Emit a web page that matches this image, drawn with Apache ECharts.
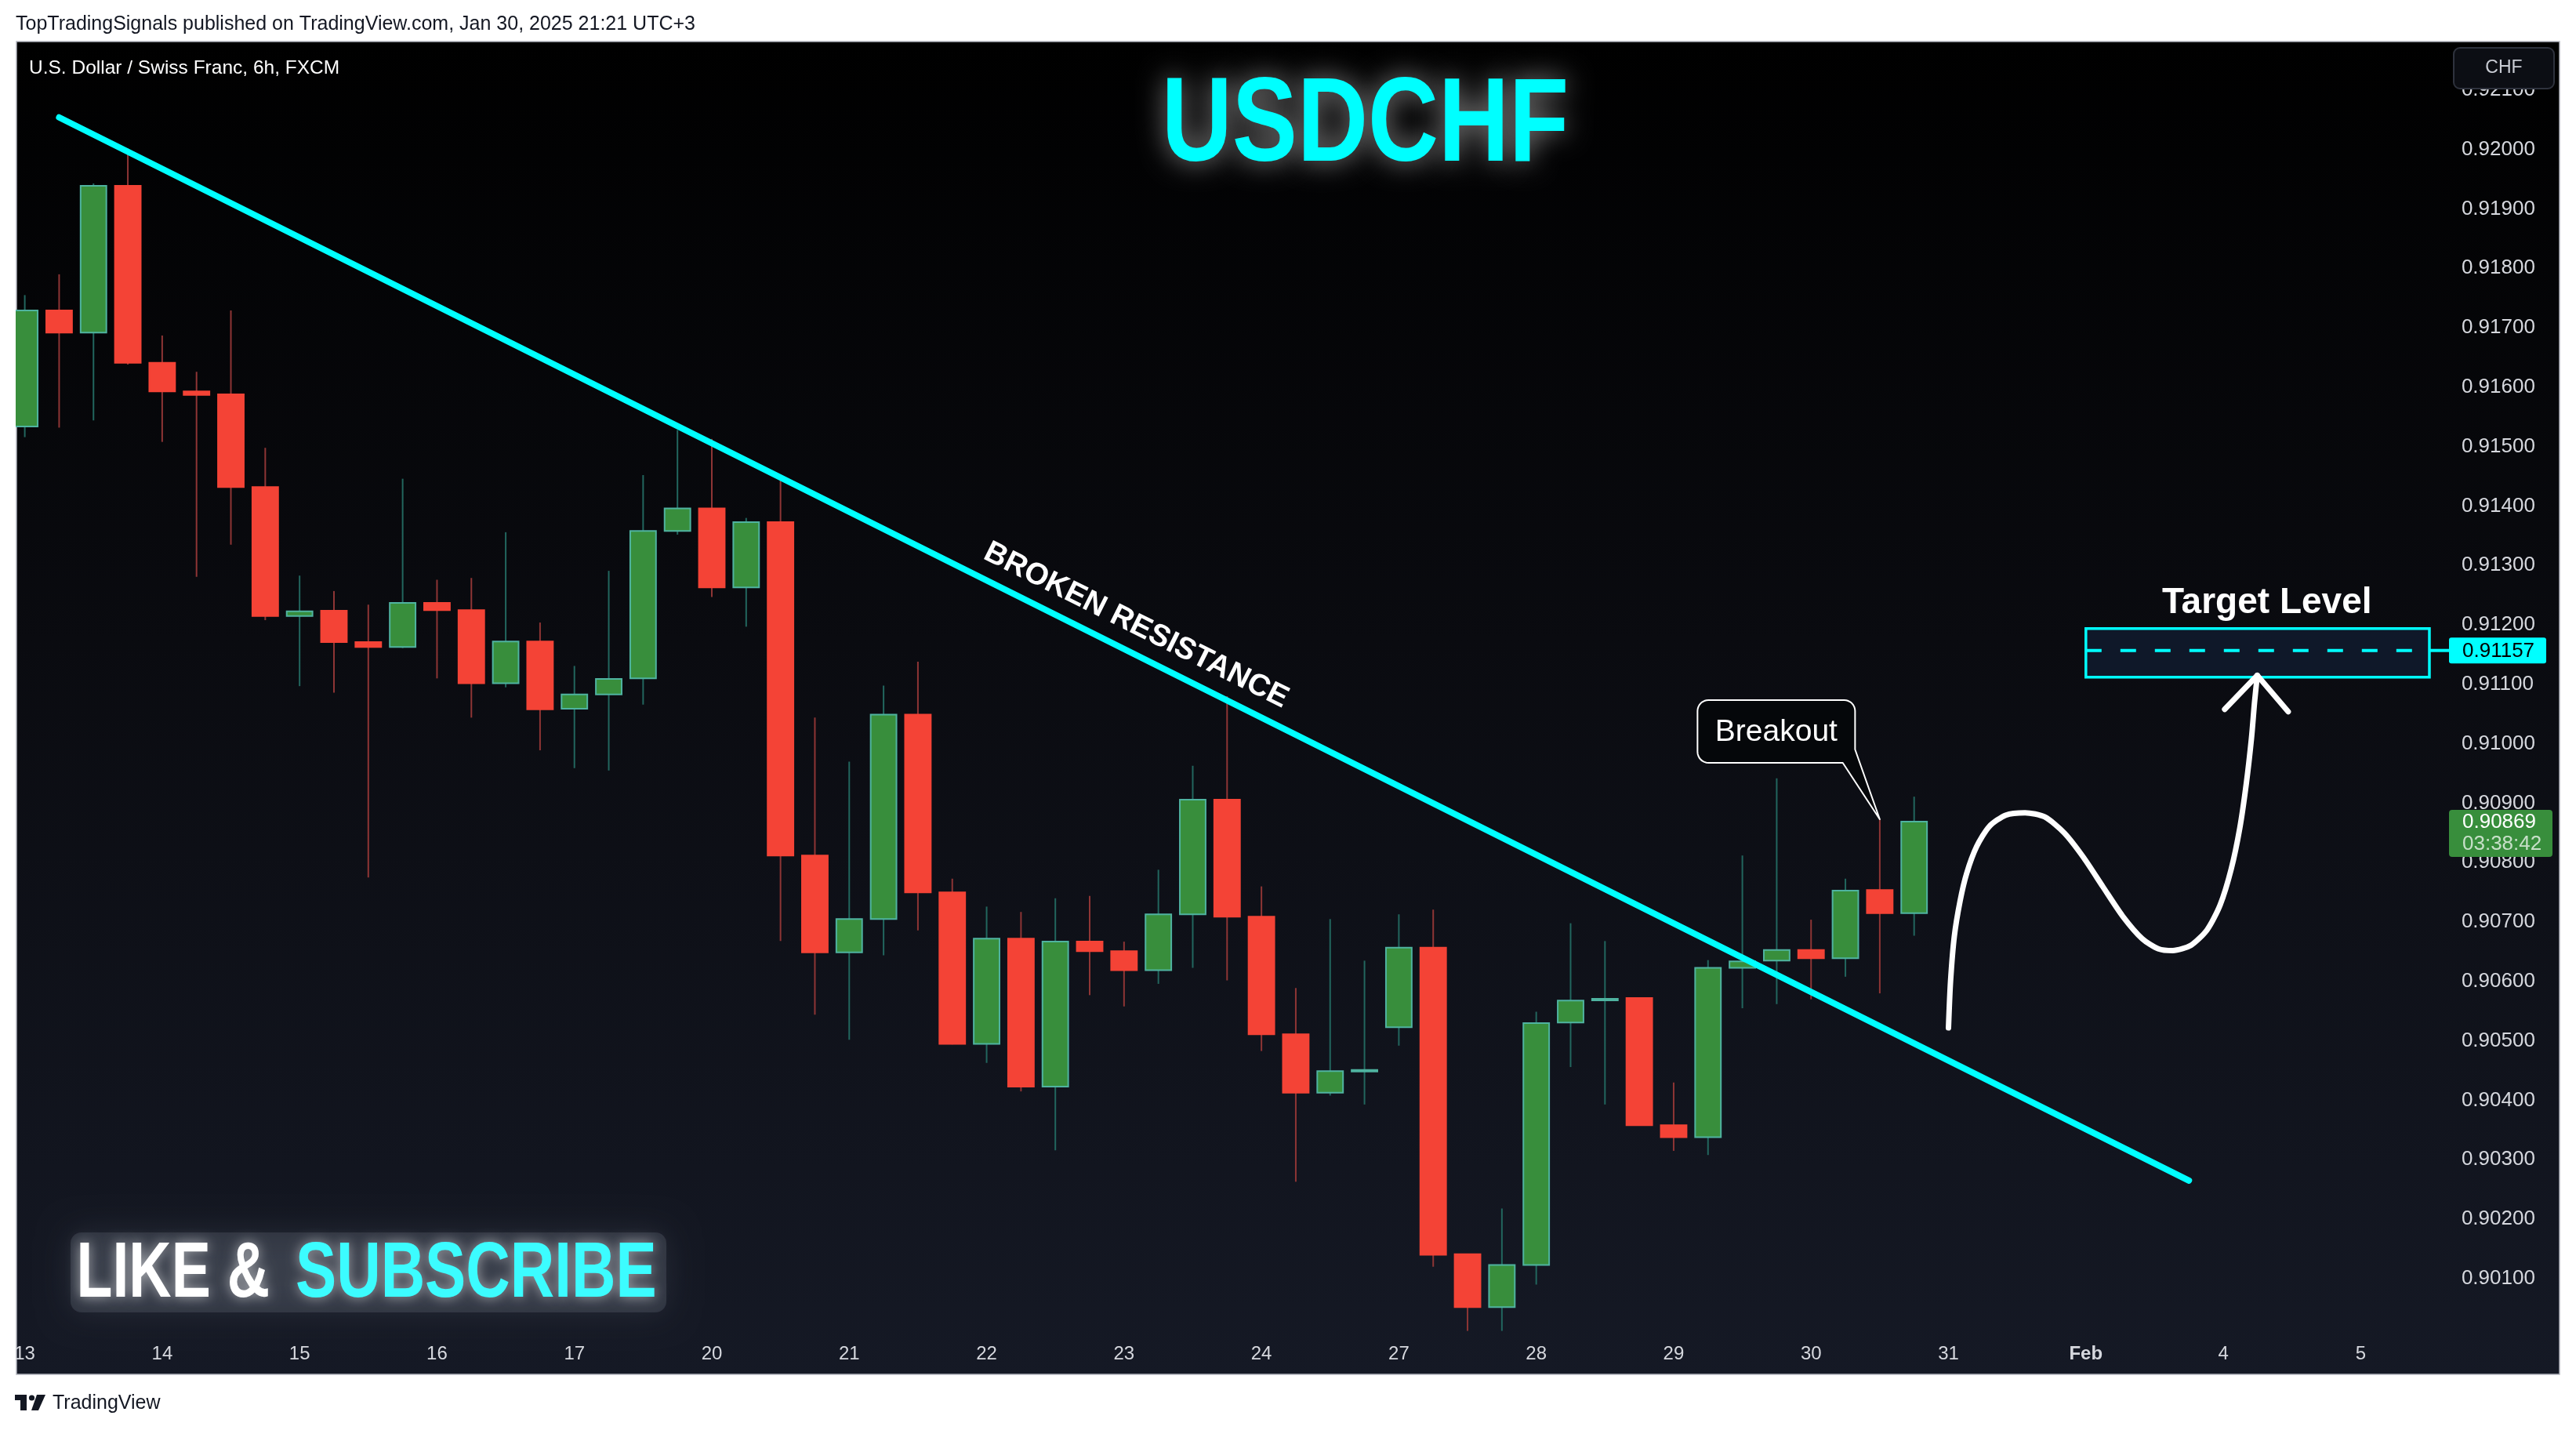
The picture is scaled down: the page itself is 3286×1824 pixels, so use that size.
<!DOCTYPE html>
<html><head><meta charset="utf-8">
<script src="https://cdn.jsdelivr.net/npm/echarts@6/dist/echarts.min.js"></script>
<style>html,body{margin:0;padding:0;background:#fff;overflow:hidden}#c{width:3286px;height:1824px}</style>
</head><body><div id="c"></div>
<script>
// ---------- data ----------
const dayLabels = ["13","14","15","16","17","20","21","22","23","24","27","28","29","30","31","Feb","4","5"];
const barsPerDay = 4;
const totalSlots = 71;
const open  = [0.91534,0.91729,0.91692,0.91939,0.91641,0.91593,0.91588,0.91432,0.91215,0.91224,0.91171,0.91163,0.91237,0.91225,0.91102,0.91172,0.91059,0.91083,0.91110,0.91358,0.91396,0.91263,0.91373,0.90812,0.90649,0.90705,0.91049,0.90750,0.90495,0.90672,0.90423,0.90667,0.90651,0.90619,0.90713,0.90906,0.90709,0.90511,0.90413,0.90450,0.90523,0.90657,0.90141,0.90052,0.90123,0.90531,0.90570,0.90572,0.90358,0.90338,0.90623,0.90635,0.90653,0.90639,0.90754,0.90715];
const close = [0.91729,0.91692,0.91939,0.91641,0.91593,0.91587,0.91432,0.91215,0.91223,0.91171,0.91163,0.91237,0.91225,0.91102,0.91172,0.91058,0.91083,0.91109,0.91358,0.91396,0.91263,0.91373,0.90812,0.90649,0.90705,0.91049,0.90750,0.90495,0.90672,0.90423,0.90667,0.90651,0.90619,0.90713,0.90906,0.90709,0.90511,0.90413,0.90449,0.90451,0.90657,0.90140,0.90052,0.90123,0.90530,0.90568,0.90571,0.90358,0.90338,0.90623,0.90634,0.90653,0.90639,0.90753,0.90715,0.90869];
const high  = [0.91755,0.91790,0.91943,0.92002,0.91687,0.91626,0.91729,0.91498,0.91283,0.91257,0.91234,0.91446,0.91276,0.91279,0.91356,0.91204,0.91131,0.91291,0.91452,0.91528,0.91513,0.91380,0.91451,0.91044,0.90970,0.91098,0.91138,0.90773,0.90726,0.90717,0.90740,0.90744,0.90667,0.90788,0.90963,0.91080,0.90760,0.90589,0.90705,0.90635,0.90713,0.90721,0.90141,0.90218,0.90549,0.90698,0.90668,0.90573,0.90430,0.90636,0.90812,0.90942,0.90704,0.90773,0.90873,0.90911];
const low   = [0.91516,0.91532,0.91544,0.91638,0.91508,0.91281,0.91335,0.91208,0.91097,0.91086,0.90775,0.91161,0.91110,0.91044,0.91095,0.90989,0.90959,0.90955,0.91066,0.91352,0.91247,0.91197,0.90668,0.90544,0.90502,0.90644,0.90686,0.90494,0.90463,0.90415,0.90316,0.90577,0.90558,0.90596,0.90623,0.90602,0.90483,0.90263,0.90408,0.90393,0.90492,0.90120,0.90012,0.90012,0.90090,0.90456,0.90393,0.90358,0.90315,0.90308,0.90555,0.90562,0.90570,0.90608,0.90580,0.90677];
const yMin = 0.900, yMax = 0.922, yStep = 0.001;
const trendLine = [[1, 0.92054], [63, 0.90265]];
const brokenLabelAt = [32.35, 0.91199];
const breakoutAt = [54, 0.90873];
const targetPrice = 0.91157;
const targetZoneX = [60, 70];
const targetZoneY = [0.91194, 0.91112];
const targetLabelAt = [65.27, 0.91237];
const lastPrice = 0.90869;
const countdown = "03:38:42";
const forecastPath = [[56.00,0.90522],[56.06,0.90600],[56.17,0.90676],[56.34,0.90736],[56.53,0.90782],[56.82,0.90827],[57.19,0.90861],[57.67,0.90880],[58.23,0.90884],[58.80,0.90877],[59.37,0.90850],[59.94,0.90808],[60.50,0.90759],[61.07,0.90710],[61.64,0.90672],[62.11,0.90655],[62.53,0.90652],[63.06,0.90661],[63.53,0.90687],[63.91,0.90729],[64.23,0.90789],[64.48,0.90858],[64.67,0.90933],[64.82,0.91009],[64.91,0.91070],[64.99,0.91115]];
const arrowHead = [[64.04,0.91058],[64.99,0.91115],[65.89,0.91054]];

// ---------- build ----------
const cats = [];
dayLabels.forEach(d => { for (let k = 0; k < barsPerDay; k++) cats.push(d + '#' + k); });
cats.length = totalSlots;
const candles = open.map((o, i) => [i, o, close[i], low[i], high[i]]);

const C = {
  upBody: '#388E3C', upBorder: '#4FB3A0', upWick: '#22665E',
  dnBody: '#F44336', dnWick: '#8E3535', cyan: '#00FFFF', axisText: '#D6D8DE'
};
const FF = '"Liberation Sans", Arial, sans-serif';

const chart = echarts.init(document.getElementById('c'), null, {width: 3286, height: 1824, renderer: 'canvas'});

const option = {
  backgroundColor: '#ffffff',
  animation: false,
  grid: {left: 9.7, right: 165.1, top: 39.1, bottom: 117.3, containLabel: false},
  xAxis: [{
    type: 'category', data: cats, boundaryGap: true,
    axisLine: {show: false}, axisTick: {show: false}, splitLine: {show: false},
    axisLabel: {
      color: C.axisText, fontSize: 24, fontFamily: 'Liberation Sans', margin: 9,
      interval: (idx, val) => String(val).split('#')[1] === '0',
      formatter: v => { const d = String(v).split('#')[0]; return d === 'Feb' ? '{b|Feb}' : d; },
      rich: {b: {fontWeight: 'bold', color: C.axisText, fontSize: 24, fontFamily: 'Liberation Sans'}}
    }
  }, {
    type: 'value', min: -0.5, max: totalSlots - 0.5, show: false
  }],
  yAxis: {
    type: 'value', position: 'right', min: yMin, max: yMax, interval: yStep, scale: true,
    axisLine: {show: false}, axisTick: {show: false}, splitLine: {show: false},
    axisLabel: {
      color: C.axisText, fontSize: 26, fontFamily: 'Liberation Sans', margin: 19, align: 'left',
      formatter: v => (Math.abs(v - yMin) < 1e-7 || Math.abs(v - yMax) < 1e-7) ? '' : v.toFixed(5)
    }
  },
  series: [{
    type: 'custom', xAxisIndex: 0, yAxisIndex: 0, data: candles, z: 3,
    encode: {x: 0, y: [1, 2, 3, 4]},
    renderItem: function (params, api) {
      const i = api.value(0), o = api.value(1), c = api.value(2), l = api.value(3), h = api.value(4);
      const pO = api.coord([i, o]), pC = api.coord([i, c]), pL = api.coord([i, l]), pH = api.coord([i, h]);
      const bw = api.size([1, 0])[0] * 0.75;
      const up = c >= o;
      const top = Math.min(pO[1], pC[1]);
      const hgt = Math.max(Math.abs(pO[1] - pC[1]), 2);
      return {type: 'group', children: [
        {type: 'line', shape: {x1: pH[0], y1: pH[1], x2: pL[0], y2: pL[1]},
          style: {stroke: up ? C.upWick : C.dnWick, lineWidth: 2}},
        {type: 'rect', shape: {x: pO[0] - bw / 2, y: top, width: bw, height: hgt},
          style: {fill: up ? C.upBody : C.dnBody, stroke: up ? C.upBorder : C.dnBody, lineWidth: 2}}
      ]};
    }
  }, {
    type: 'line', xAxisIndex: 1, yAxisIndex: 0, data: trendLine, symbol: 'none', z: 4,
    lineStyle: {color: C.cyan, width: 8, cap: 'round'}
  }, {
    type: 'line', xAxisIndex: 1, yAxisIndex: 0, symbol: 'none', z: 5,
    data: [[targetZoneX[0], targetPrice], [targetZoneX[1], targetPrice]],
    lineStyle: {color: C.cyan, width: 4, type: [20, 24]},
    markArea: {silent: true, itemStyle: {color: '#0f1829', borderColor: C.cyan, borderWidth: 3.5},
      data: [[{coord: [targetZoneX[0], targetZoneY[0]]}, {coord: [targetZoneX[1], targetZoneY[1]]}]]}
  }, {
    type: 'line', xAxisIndex: 1, yAxisIndex: 0, data: forecastPath, symbol: 'none', smooth: 0.25, z: 6,
    lineStyle: {color: '#ffffff', width: 7, cap: 'round', join: 'round'}
  }, {
    type: 'line', xAxisIndex: 1, yAxisIndex: 0, data: arrowHead, symbol: 'none', z: 6,
    lineStyle: {color: '#ffffff', width: 7, cap: 'round', join: 'round'}
  }]
};
chart.setOption(option);

// ---------- annotations positioned through the axes ----------
const px = (x, y) => chart.convertToPixel({seriesIndex: 1}, [x, y]);
const t0 = px(trendLine[0][0], trendLine[0][1]), t1 = px(trendLine[1][0], trendLine[1][1]);
const ang = Math.atan2(t1[1] - t0[1], t1[0] - t0[0]);
const br = px(brokenLabelAt[0], brokenLabelAt[1]);
const tip = px(breakoutAt[0], breakoutAt[1]);
const tgtY = px(0, targetPrice)[1];
const zoneR = px(targetZoneX[1], targetPrice)[0];
const lastY = px(0, lastPrice)[1];
const tl = px(targetLabelAt[0], targetLabelAt[1]);

// callout bubble outline (rounded corners sampled)
const L = tip[0] - 232.5, R = tip[0] - 31.5, T = tip[1] - 152, B = tip[1] - 72, r = 14;
const bubble = [];
function arc(cx, cy, a0, a1) { for (let k = 0; k <= 8; k++) { const a = a0 + (a1 - a0) * k / 8; bubble.push([cx + r * Math.cos(a), cy + r * Math.sin(a)]); } }
arc(L + r, T + r, Math.PI, 1.5 * Math.PI);
arc(R - r, T + r, 1.5 * Math.PI, 2 * Math.PI);
bubble.push([R, tip[1] - 89], [tip[0], tip[1]], [tip[0] - 47.2, B]);
arc(L + r, B - r, 0.5 * Math.PI, Math.PI);

function txt(o) {
  const s = Object.assign({}, o.style);
  if (s.align) { s.textAlign = s.align; }
  if (s.verticalAlign) { s.textVerticalAlign = s.verticalAlign; }
  o.style = s; o.type = 'text'; return o;
}

chart.setOption({graphic: [
  {type: 'rect', z: -5, silent: true, shape: {x: 21, y: 53, width: 3244, height: 1700},
    style: {fill: {type: 'linear', x: 0, y: 0, x2: 0, y2: 1, colorStops: [{offset: 0, color: '#000000'}, {offset: 0.45, color: '#0a0b10'}, {offset: 1, color: '#151925'}]},
      stroke: '#b2b5be', lineWidth: 1.5}},
  {type: 'rect', z: 60, silent: true, shape: {x: 0, y: 40, width: 20, height: 1720}, style: {fill: '#ffffff'}},
  txt({z: 61, x: 20, y: 31, style: {text: 'TopTradingSignals published on TradingView.com, Jan 30, 2025 21:21 UTC+3', fill: '#131722', font: '25px ' + FF, align: 'left', verticalAlign: 'middle'}}),
  txt({z: 61, x: 37, y: 87, style: {text: 'U.S. Dollar / Swiss Franc, 6h, FXCM', fill: '#ffffff', font: '24.5px ' + FF, align: 'left', verticalAlign: 'middle'}}),
  // title
  txt({z: 61, x: 1741.5, y: 163, scaleX: 0.82, style: {text: 'USDCHF', fill: C.cyan, font: 'bold 152px ' + FF, align: 'center', verticalAlign: 'middle', textShadowColor: 'rgba(255,255,255,0.55)', textShadowBlur: 34, shadowColor: 'rgba(255,255,255,0.55)', shadowBlur: 34}}),
  // like & subscribe
  {type: 'rect', z: 58, silent: true, shape: {x: 90, y: 1572, width: 760, height: 102, r: 14},
    style: {fill: 'rgba(105,110,125,0.28)', shadowBlur: 40, shadowColor: 'rgba(105,110,125,0.8)'}},
  txt({z: 61, x: 97.5, y: 1626, scaleX: 0.752, style: {text: 'LIKE &', fill: '#ffffff', font: 'bold 100px ' + FF, align: 'left', verticalAlign: 'middle', textShadowColor: 'rgba(255,255,255,0.6)', textShadowBlur: 16, shadowColor: 'rgba(255,255,255,0.6)', shadowBlur: 16}}),
  txt({z: 61, x: 377, y: 1626, scaleX: 0.782, style: {text: 'SUBSCRIBE', fill: '#3CFCFF', font: 'bold 100px ' + FF, align: 'left', verticalAlign: 'middle', textShadowColor: 'rgba(255,255,255,0.55)', textShadowBlur: 16, shadowColor: 'rgba(255,255,255,0.55)', shadowBlur: 16}}),
  // CHF button
  {type: 'rect', z: 62, silent: true, shape: {x: 3130, y: 61, width: 128, height: 52, r: 8}, style: {fill: '#0c0e14', stroke: '#2e323d', lineWidth: 2}},
  txt({z: 63, x: 3194, y: 87, style: {text: 'CHF', fill: '#c9ccd4', font: '23px ' + FF, align: 'center', verticalAlign: 'middle'}}),
  // broken resistance
  txt({z: 61, x: br[0], y: br[1], rotation: -ang, style: {text: 'BROKEN RESISTANCE', fill: '#ffffff', font: 'bold 39px ' + FF, align: 'center', verticalAlign: 'middle'}}),
  // breakout callout
  {type: 'polygon', z: 61, silent: true, shape: {points: bubble}, style: {fill: '#05070a', stroke: '#ffffff', lineWidth: 2, lineJoin: 'round'}},
  txt({z: 62, x: (L + R) / 2, y: (T + B) / 2 + 1, style: {text: 'Breakout', fill: '#ffffff', font: '39px ' + FF, align: 'center', verticalAlign: 'middle'}}),
  // target level
  txt({z: 61, x: tl[0], y: tl[1], style: {text: 'Target Level', fill: '#ffffff', font: 'bold 46px ' + FF, align: 'center', verticalAlign: 'middle'}}),
  {type: 'line', z: 61, silent: true, shape: {x1: zoneR, y1: tgtY, x2: 3125, y2: tgtY}, style: {stroke: C.cyan, lineWidth: 4}},
  {type: 'rect', z: 62, silent: true, shape: {x: 3124, y: tgtY - 16.5, width: 124, height: 33, r: 3}, style: {fill: C.cyan}},
  txt({z: 63, x: 3141, y: tgtY + 1, style: {text: targetPrice.toFixed(5), fill: '#000000', font: '26px ' + FF, align: 'left', verticalAlign: 'middle'}}),
  // last price
  {type: 'rect', z: 62, silent: true, shape: {x: 3124, y: lastY - 15, width: 132, height: 60, r: 4}, style: {fill: C.upBody}},
  txt({z: 63, x: 3141, y: lastY + 1, style: {text: lastPrice.toFixed(5), fill: '#ffffff', font: '26px ' + FF, align: 'left', verticalAlign: 'middle'}}),
  txt({z: 63, x: 3141, y: lastY + 29, style: {text: countdown, fill: 'rgba(255,255,255,0.72)', font: '26px ' + FF, align: 'left', verticalAlign: 'middle'}}),
  // footer logo
  {type: 'rect', z: 61, silent: true, shape: {x: 19, y: 1779, width: 15, height: 7}, style: {fill: '#131722'}},
  {type: 'rect', z: 61, silent: true, shape: {x: 26, y: 1779, width: 8, height: 20}, style: {fill: '#131722'}},
  {type: 'circle', z: 61, silent: true, shape: {cx: 40.5, cy: 1783, r: 3.6}, style: {fill: '#131722'}},
  {type: 'polygon', z: 61, silent: true, shape: {points: [[47, 1779], [58, 1779], [49, 1799], [40, 1799]]}, style: {fill: '#131722'}},
  txt({z: 61, x: 67, y: 1790, style: {text: 'TradingView', fill: '#131722', font: '500 25px ' + FF, align: 'left', verticalAlign: 'middle'}})
]});
</script>
</body></html>
